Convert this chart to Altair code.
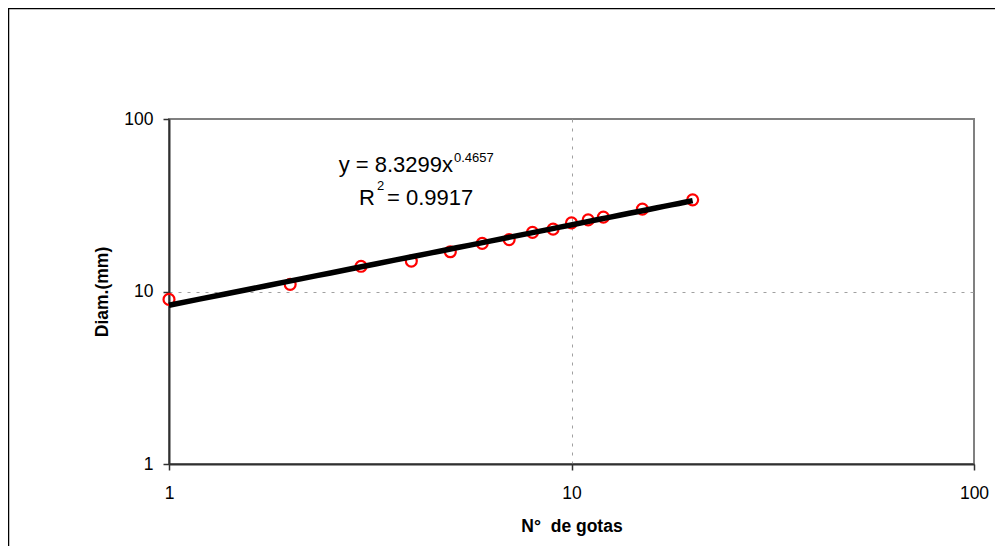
import altair as alt
import pandas as pd

# ---- data ----
gotas = [1, 2, 3, 4, 5, 6, 7, 8, 9, 10, 11, 12, 15, 20]
diam = [9, 11, 14, 15, 17, 19, 20, 22, 23, 25, 26, 27, 30, 34]
tick_values = [1, 10, 100]
axis_domain = [1, 100]
fit_extent = [1, 20]
eq_base = ["y = 8.3299x"]
eq_exp = ["0.4657"]
r_base = ["R"]
r_exp = ["2"]
r_rest = ["= 0.9917"]

df = pd.DataFrame({"n": gotas, "d": diam})

W, H = 805, 345
FONT = "Liberation Sans"

xs = alt.Scale(type="log", domain=axis_domain)
ys = alt.Scale(type="log", domain=axis_domain)

grid_only_10 = {"condition": {"test": "datum.value == 10", "value": 1}, "value": 0}

common_axis = dict(
    values=tick_values, format="d", grid=True, gridOpacity=grid_only_10,
    gridColor="#a0a0a0", gridDash=[3, 6], gridWidth=1,
    domainColor="#303030", domainWidth=2, tickColor="#303030",
    tickSize=6, tickWidth=1.5, labelFont=FONT, labelFontSize=17.5,
    labelColor="black", titleFont=FONT, titleFontSize=17.5,
    titleFontWeight="bold", titleColor="black",
)

xaxis = alt.Axis(title="N°\u00a0\u00a0de gotas", labelPadding=14, titlePadding=16,
                 labelFlush=False, **common_axis)
yaxis = alt.Axis(title="Diam.(mm)", labelPadding=10, titlePadding=12, **common_axis)

points = alt.Chart(df).mark_point(
    shape="circle", filled=False, color="#ff0000", size=120, strokeWidth=2.2, opacity=1
).encode(
    x=alt.X("n:Q", scale=xs, axis=xaxis),
    y=alt.Y("d:Q", scale=ys, axis=yaxis),
)

trend = alt.Chart(df).transform_regression(
    "n", "d", method="pow", extent=fit_extent
).mark_line(color="black", strokeWidth=5.5, strokeCap="butt").encode(
    x=alt.X("n:Q", scale=xs),
    y=alt.Y("d:Q", scale=ys),
)

def txt(values, x, y, size, align):
    return alt.Chart(pd.DataFrame({"t": values})).mark_text(
        font=FONT, fontSize=size, align=align, baseline="alphabetic", color="black"
    ).encode(text="t:N", x=alt.value(x), y=alt.value(y))

annot = (
    txt(eq_base, 284, 53, 22, "right")
    + txt(eq_exp, 285, 42.5, 13, "left")
    + txt(r_base, 206, 86, 22, "right")
    + txt(r_exp, 208, 71, 13, "left")
    + txt(r_rest, 218, 86, 22, "left")
)

frame = alt.Chart(pd.DataFrame({"a": [0]})).mark_rect(
    fillOpacity=0, stroke="black", strokeWidth=1.5
).encode(
    x=alt.value(-160.5), x2=alt.value(W + 300),
    y=alt.value(-110.5), y2=alt.value(H + 300),
)

chart = alt.layer(points, trend, annot, frame).properties(
    width=W, height=H,
    autosize=alt.AutoSizeParams(type="none"),
    padding={"left": 161, "top": 111, "right": 21, "bottom": 82},
    background="white",
).configure_view(stroke="#808080", strokeWidth=2)

chart.save("out.html", embed_options={"renderer": "svg", "actions": False})
